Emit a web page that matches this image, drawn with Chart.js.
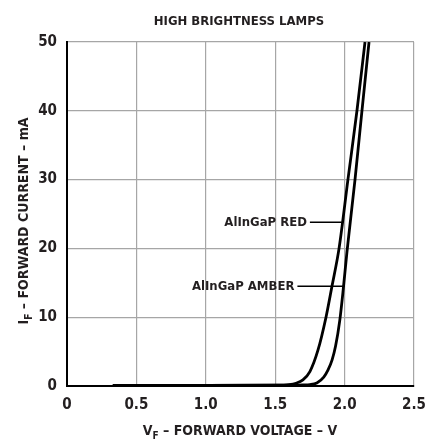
<!DOCTYPE html>
<html>
<head>
<meta charset="utf-8">
<script src="https://cdn.jsdelivr.net/npm/chart.js@4"></script>
<style>
  html, body { margin: 0; padding: 0; background: #fff; }
  #wrap { width: 425px; height: 445px; }
</style>
</head>
<body>
<div id="wrap"><canvas id="ivChart"></canvas></div>
<script>
// Data
const redV = [0.33, 1.0, 1.5, 1.6, 1.65, 1.7, 1.75, 1.808, 1.866, 1.909, 1.96, 2.024, 2.089, 2.147];
const redI = [0.1, 0.1, 0.12, 0.2, 0.4, 0.9, 2.1, 5.2, 10, 14.5, 20, 30, 40, 50];
const amberV = [0.33, 1.0, 1.6, 1.7, 1.75, 1.8, 1.85, 1.88, 1.91, 1.935, 1.965, 1.99, 2.017, 2.075, 2.125, 2.176];
const amberI = [0.1, 0.1, 0.12, 0.15, 0.2, 0.45, 1.3, 2.3, 3.8, 5.8, 9.5, 14, 19.5, 30, 40, 50];

const xTickLabels = ['0', '0.5', '1.0', '1.5', '2.0', '2.5'];
const yTickLabels = ['0', '10', '20', '30', '40', '50'];

// labels with leader lines: text, line start V, line end V, current
const labelText = ['AlInGaP RED', 'AlInGaP AMBER'];
const leaderV1 = [1.75, 1.66];
const leaderV2 = [1.98, 2.0];
const leaderI = [23.8, 14.5];

const FONT = "'Liberation Sans Narrow', 'DejaVu Sans Condensed', 'Roboto Condensed', sans-serif";

const toPts = (xs, ys) => xs.map((v, i) => ({ x: v, y: ys[i] }));

let datasets = [
    {
        label: 'AlInGaP RED',
        data: toPts(redV, redI),
        borderColor: '#000',
        borderWidth: 2.8,
        pointRadius: 0,
        cubicInterpolationMode: 'monotone',
        fill: false
    },
    {
        label: 'AlInGaP AMBER',
        data: toPts(amberV, amberI),
        borderColor: '#000',
        borderWidth: 2.8,
        pointRadius: 0,
        cubicInterpolationMode: 'monotone',
        fill: false
    }
];
for (let i = 0; i < labelText.length; i++) {
    datasets.push({
        label: 'leader' + i,
        data: [{ x: leaderV1[i], y: leaderI[i] }, { x: leaderV2[i], y: leaderI[i] }],
        borderColor: '#000',
        borderWidth: 1.5,
        pointRadius: 0,
        fill: false
    });
}

// text: title, axis titles with subscripts, curve labels
const textPlugin = {
    id: 'texts',
    afterDraw(chart) {
        const ctx = chart.ctx;
        const xs = chart.scales.x, ys = chart.scales.y;
        ctx.save();
        ctx.fillStyle = '#231f20';

        // title
        ctx.font = 'bold 13px ' + FONT;
        ctx.textAlign = 'center';
        ctx.textBaseline = 'middle';
        ctx.fillText('HIGH BRIGHTNESS LAMPS', 239, 22);

        // curve labels
        ctx.font = 'bold 13px ' + FONT;
        ctx.textAlign = 'right';
        for (let i = 0; i < labelText.length; i++) {
            ctx.fillText(labelText[i], xs.getPixelForValue(leaderV1[i]) - 3, ys.getPixelForValue(leaderI[i]));
        }

        // axis title with subscript
        const subTitle = (main, sub, rest, cx, cy, rot) => {
            ctx.save();
            ctx.translate(cx, cy);
            ctx.rotate(rot);
            ctx.textAlign = 'left';
            ctx.textBaseline = 'middle';
            const big = 'bold 14px ' + FONT, small = 'bold 10px ' + FONT;
            ctx.font = big; const w1 = ctx.measureText(main).width;
            ctx.font = small; const w2 = ctx.measureText(sub).width;
            ctx.font = big; const w3 = ctx.measureText(rest).width;
            let x0 = -(w1 + w2 + w3) / 2;
            ctx.font = big; ctx.fillText(main, x0, 0);
            ctx.font = small; ctx.fillText(sub, x0 + w1, 5);
            ctx.font = big; ctx.fillText(rest, x0 + w1 + w2, 0);
            ctx.restore();
        };
        subTitle('V', 'F', ' \u2013 FORWARD VOLTAGE \u2013 V', 240, 431, 0);
        subTitle('I', 'F', ' \u2013 FORWARD CURRENT \u2013 mA', 24, 221, -Math.PI / 2);
        ctx.restore();
    }
};

let ivChart = new Chart(document.getElementById('ivChart'), {
    type: 'line',
    data: { datasets: datasets },
    options: {
        responsive: true,
        maintainAspectRatio: false,
        animation: false,
        layout: { padding: { left: 20, right: 11, top: 42, bottom: 0 } },
        plugins: {
            legend: { display: false },
            tooltip: { enabled: false }
        },
        scales: {
            x: {
                type: 'linear',
                min: 0,
                max: 2.5,
                afterFit: scale => {
                    scale.height = 59;
                    scale.paddingLeft = 0;
                    scale.paddingRight = 0;
                },
                ticks: {
                    stepSize: 0.5,
                    padding: 10,
                    maxRotation: 0,
                    color: '#231f20',
                    font: { family: FONT, size: 15, weight: 'bold' },
                    callback: (v, i) => xTickLabels[i]
                },
                grid: { color: '#a6a6a6', lineWidth: 1.2, drawTicks: false },
                border: { color: '#000', width: 2 }
            },
            y: {
                type: 'linear',
                min: 0,
                max: 50,
                afterFit: scale => {
                    scale.width = 47;
                    scale.paddingTop = 0;
                    scale.paddingBottom = 0;
                },
                ticks: {
                    stepSize: 10,
                    padding: 10,
                    color: '#231f20',
                    font: { family: FONT, size: 15, weight: 'bold' },
                    callback: (v, i) => yTickLabels[i]
                },
                grid: { color: '#a6a6a6', lineWidth: 1.2, drawTicks: false },
                border: { color: '#000', width: 2 }
            }
        }
    },
    plugins: [textPlugin]
});
</script>
</body>
</html>
